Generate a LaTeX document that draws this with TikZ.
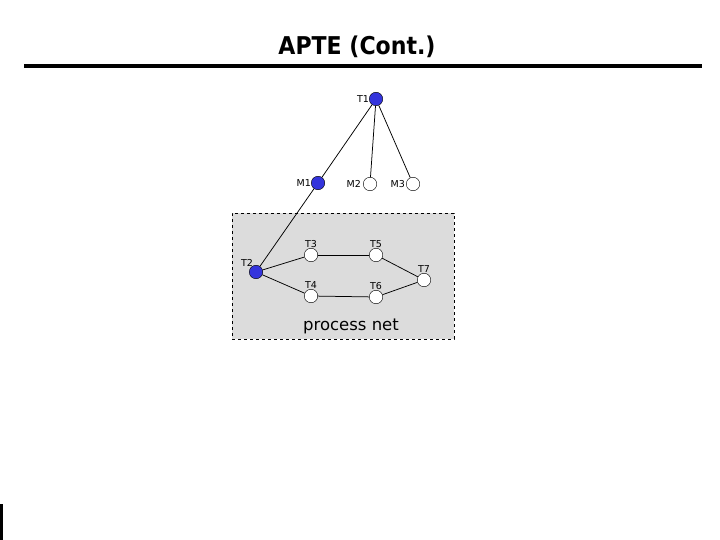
\documentclass[tikz,border=0pt]{standalone}
\usepackage{fontspec}
\setmainfont{DejaVu Sans}
\newfontfamily\titlefont{DejaVu Sans Condensed}
\usepackage{tikz}
\usetikzlibrary{positioning}
\definecolor{NetBlue}{HTML}{3434DC}
\definecolor{NetGray}{HTML}{DCDCDC}

\begin{document}
\begin{tikzpicture}[
  x=1pt,y=-1pt,
  every node/.style={font=\fontsize{9.5}{11}\selectfont,inner sep=1pt},
  done/.style={circle,draw=black,fill=NetBlue,minimum size=13.5pt,inner sep=0pt},
  open/.style={circle,draw=black,fill=white,minimum size=13.5pt,inner sep=0pt},
  link/.style={line width=0.75pt,black}
]
  \useasboundingbox (0,0) rectangle (720,540);

  % title and rule
  \node[font=\titlefont\bfseries\fontsize{24.5}{28}\selectfont] (title) at (357,47) {APTE (Cont.)};
  \fill (24,64.5) rectangle (702,68);
  \fill (0,504) rectangle (2.5,540);

  % process net frame
  \node[draw,dashed,fill=NetGray,minimum width=222pt,minimum height=126pt,inner sep=0pt] (frame) at (343,276) {};
  \node[font=\fontsize{16.5}{19}\selectfont] (pnet) at (351,326) {process net};

  % tasks and methods
  \node[done,label={[xshift=1pt]left:T1}] (t1) at (376,99) {};
  \node[done,label={[xshift=1pt]left:M1}] (m1) at (318,183) {};
  \node[open,label={[xshift=-1pt]left:M2}] (m2) at (370,184) {};
  \node[open,label={[xshift=0pt]left:M3}] (m3) at (413,184) {};
  \node[done,label={[xshift=3pt,yshift=-1pt]above left:T2}] (t2) at (256,272) {};
  \node[open,label={[yshift=-1pt]above:T3}] (t3) at (311,255) {};
  \node[open,label={[yshift=-1pt]above:T4}] (t4) at (311,296) {};
  \node[open,label={[yshift=-1pt]above:T5}] (t5) at (376,255) {};
  \node[open,label={[yshift=-1pt]above:T6}] (t6) at (376,297) {};
  \node[open,label={[yshift=-1pt]above:T7}] (t7) at (424,280) {};

  \draw[link] (t1) -- (m1);
  \draw[link] (t1) -- (m2);
  \draw[link] (t1) -- (m3);
  \draw[link] (m1) -- (t2);
  \draw[link] (t2) -- (t3);
  \draw[link] (t2) -- (t4);
  \draw[link] (t3) -- (t5);
  \draw[link] (t4) -- (t6);
  \draw[link] (t5) -- (t7);
  \draw[link] (t6) -- (t7);
\end{tikzpicture}
\end{document}
